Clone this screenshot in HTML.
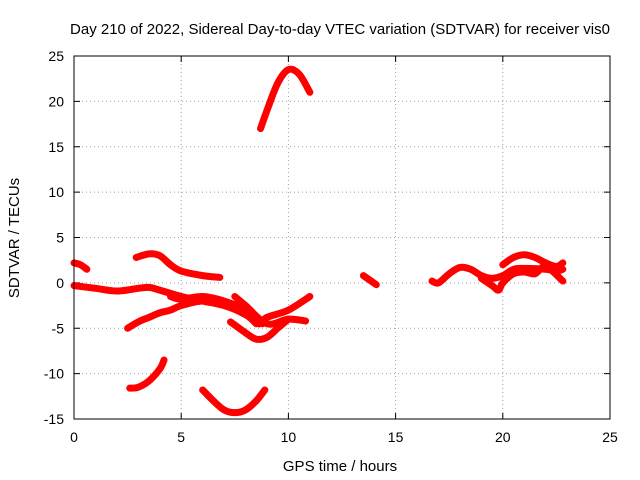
<!DOCTYPE html>
<html><head><meta charset="utf-8"><style>
body{margin:0;background:#fff;}
svg{display:block;font-family:"Liberation Sans",sans-serif;}
</style></head><body>
<svg id="chart" width="640" height="480" xmlns="http://www.w3.org/2000/svg">
<text x="340" y="34" font-size="15" text-anchor="middle">Day 210 of 2022, Sidereal Day-to-day VTEC variation (SDTVAR) for receiver vis0</text>
<text x="340" y="471" font-size="15" text-anchor="middle">GPS time / hours</text>
<text transform="translate(19,238) rotate(-90)" font-size="15" text-anchor="middle">SDTVAR / TECUs</text>
<g id="grid"></g><g id="series"></g>
<rect x="74" y="56" width="536" height="363" fill="none" stroke="#000" stroke-width="1"/>
</svg>
<script>
const xTicks=[0,5,10,15,20,25];
const yTicks=[-15,-10,-5,0,5,10,15,20,25];
const s1=[[0,2.2],[0.3,2],[0.6,1.5]];
const s2=[[0,-0.3],[1,-0.6],[2,-0.9],[3,-0.6],[3.5,-0.5],[4,-0.8],[5,-1.5],[6,-2],[7,-2.5],[8,-3.5],[8.5,-4.5]];
const s3=[[2.5,-5],[3,-4.3],[3.5,-3.8],[4,-3.3],[4.5,-3],[5,-2.5],[6,-2],[7,-2.3],[8,-3.5],[8.8,-4.5]];
const s4=[[2.9,2.8],[3.5,3.2],[4,3],[4.5,2],[5,1.3],[6,0.8],[6.8,0.6]];
const s5=[[4.5,-1.5],[5,-1.8],[6,-1.5],[7,-2],[8,-3],[8.6,-4.5],[9,-3.8],[10,-3],[11,-1.5]];
const s6=[[7.3,-4.3],[8,-5.5],[8.5,-6.2],[9,-6],[9.5,-5],[10,-4]];
const s7=[[7.5,-1.5],[8,-2.5],[9,-4.5],[10,-4],[10.8,-4.2]];
const s8=[[2.6,-11.6],[3,-11.5],[3.5,-10.8],[4,-9.5],[4.2,-8.5]];
const s9=[[6,-11.8],[6.5,-13],[7,-14],[7.5,-14.3],[8,-14],[8.5,-13],[8.9,-11.8]];
const s10=[[8.7,17],[9,19],[9.5,22],[10,23.5],[10.5,23],[11,21]];
const s11=[[13.5,0.8],[13.8,0.3],[14.1,-0.2]];
const s12=[[16.7,0.2],[17,0],[17.5,1],[18,1.7],[18.5,1.5],[19,0.8],[19.5,0.5],[20,0.8],[20.5,1.5],[21,1.6],[22,1.5],[22.5,1.3],[22.8,1.5]];
const s13=[[19,0.5],[19.5,-0.3],[19.8,-0.8],[20,0],[20.5,1],[21,1.2],[21.5,1],[22,1.8],[22.8,0.2]];
const s14=[[20,2],[20.5,2.8],[21,3.1],[21.5,2.8],[22,2.2],[22.5,1.8],[22.8,2.2]];
const allSeries=[s1,s2,s3,s4,s5,s6,s7,s8,s9,s10,s11,s12,s13,s14];
const X=v=>74+v*(536/25);
const Y=v=>419-(v+15)*(363/40);
const NS="http://www.w3.org/2000/svg";
const grid=document.getElementById('grid'),ser=document.getElementById('series');
function mk(t,a,p){const e=document.createElementNS(NS,t);for(const k in a)e.setAttribute(k,a[k]);p.appendChild(e);return e;}
xTicks.forEach(t=>{
 const l=mk('line',{x1:X(t),x2:X(t),y1:56,y2:419,stroke:'#a0a0a0','stroke-dasharray':'1,3'},grid);
 
 
 const k=mk('path',{d:`M${X(t)},419v-6M${X(t)},56v6`,stroke:'#000'},grid);
 
 
 const tx=mk('text',{x:X(t),y:442,'font-size':14,'text-anchor':'middle'},grid);tx.textContent=t;
 
 
});
yTicks.forEach(t=>{
 const l=mk('line',{x1:74,x2:610,y1:Y(t),y2:Y(t),stroke:'#a0a0a0','stroke-dasharray':'1,3'},grid);
 
 
 const k=mk('path',{d:`M74,${Y(t)}h6M610,${Y(t)}h-6`,stroke:'#000'},grid);
 
 
 const tx=mk('text',{x:64,y:Y(t)+5,'font-size':14,'text-anchor':'end'},grid);tx.textContent=t;
 
 
});
function smooth(pts){
 let d=`M${pts[0][0]},${pts[0][1]}`;
 for(let i=0;i<pts.length-1;i++){
  const p0=pts[i-1]||pts[i],p1=pts[i],p2=pts[i+1],p3=pts[i+2]||p2;
  const c1=[p1[0]+(p2[0]-p0[0])/6,p1[1]+(p2[1]-p0[1])/6];
  const c2=[p2[0]-(p3[0]-p1[0])/6,p2[1]-(p3[1]-p1[1])/6];
  d+=`C${c1[0]},${c1[1]} ${c2[0]},${c2[1]} ${p2[0]},${p2[1]}`;
 }
 return d;
}
allSeries.forEach((s,i)=>{
 const pts=s.map(d=>[X(d[0]),Y(d[1])]);
 const p=mk('path',{d:smooth(pts),fill:'none',stroke:'#ff0000','stroke-width':7,'stroke-linecap':'round','stroke-linejoin':'round'},ser);
 
 
});
</script>
</body></html>
